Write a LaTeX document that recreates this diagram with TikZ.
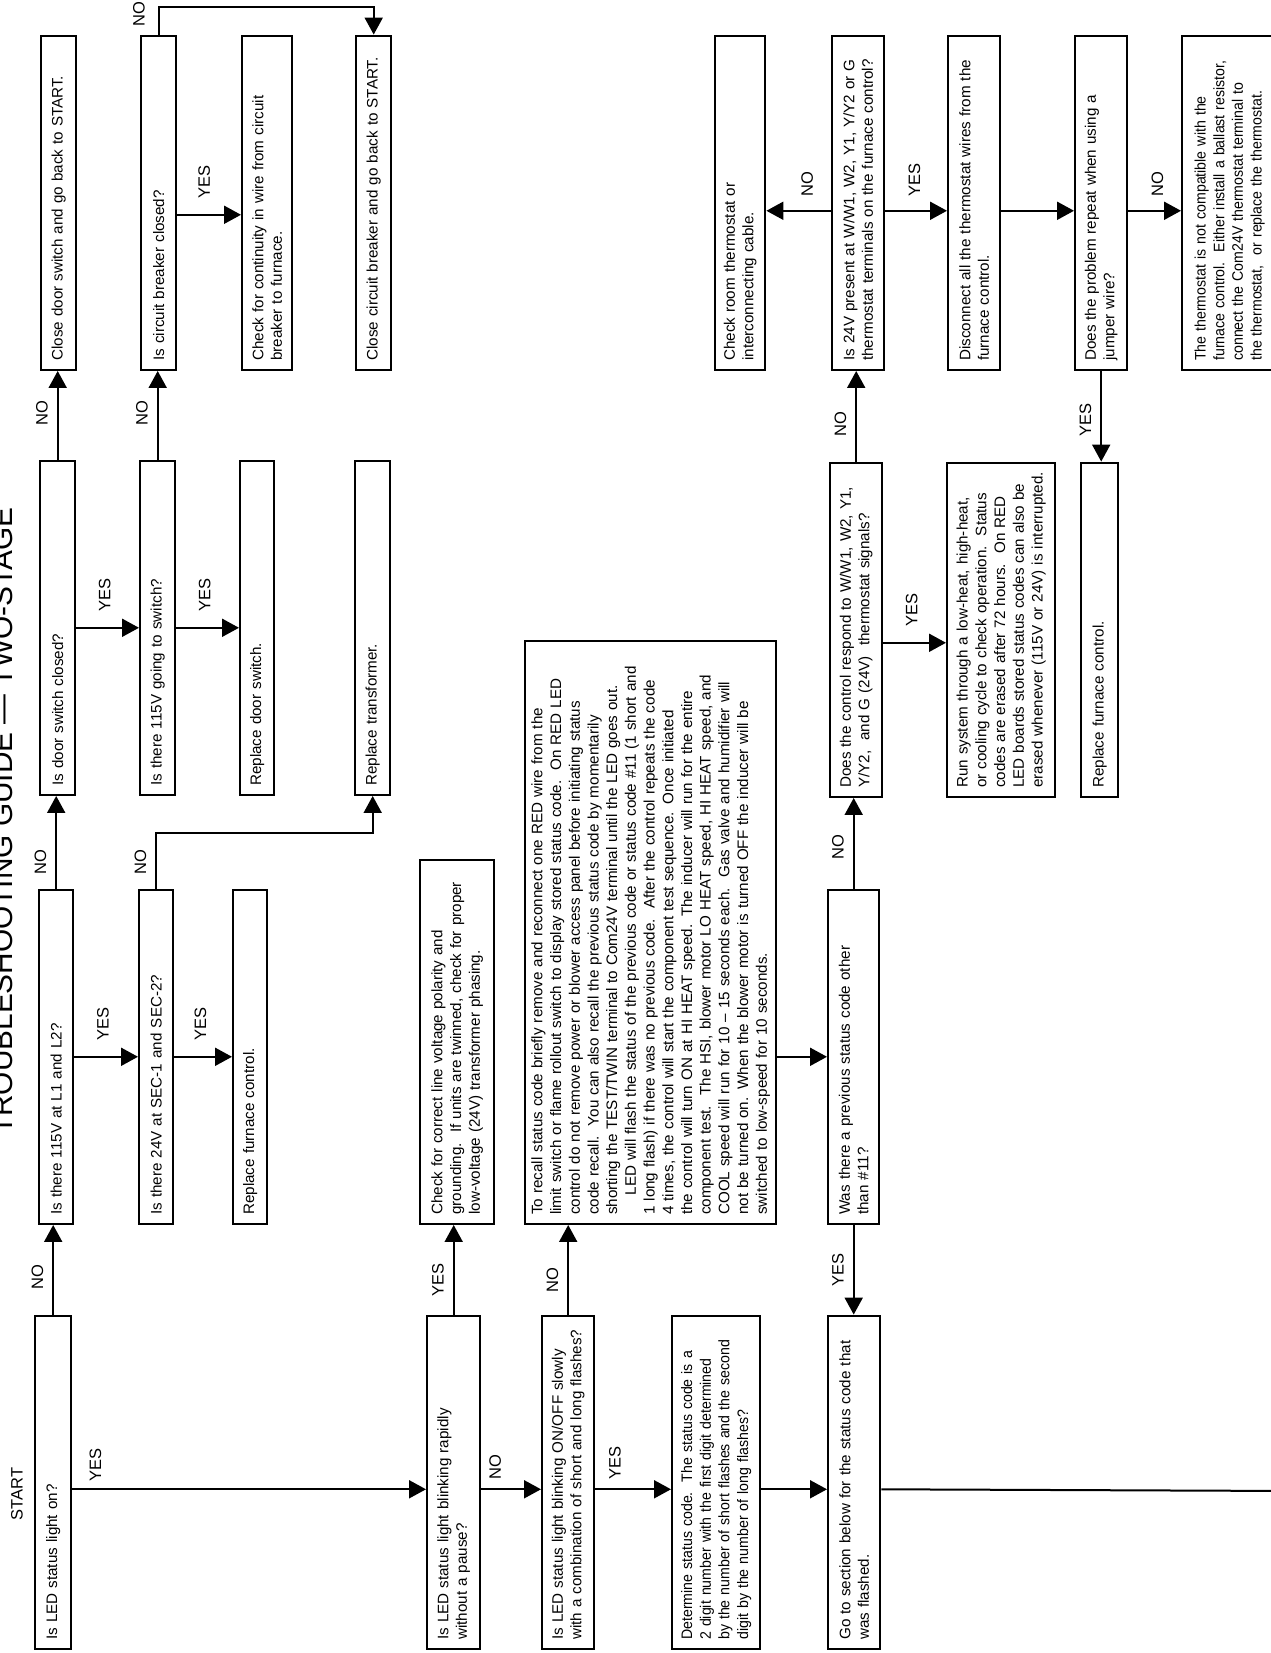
\documentclass[tikz,border=0pt]{standalone}
\usepackage{fontspec}
\setmainfont{Liberation Sans}
\newfontfamily\narrowsf[FakeStretch=0.93]{Liberation Sans}
\usepackage{tikz}
\usetikzlibrary{arrows.meta,calc}
\newcommand\boxfont{\fontsize{15.2}{18.7}\selectfont}
\newcommand\narrowfont{\narrowsf\fontsize{15.2}{18.7}\selectfont}
\newcommand\lblfont{\fontsize{16.5}{18}\selectfont}
\newcommand\titlefont{\fontsize{29.8}{32}\selectfont}
\tikzset{
  box/.style={draw, line width=2.4pt, rectangle, anchor=north west, align=left,
    inner xsep=9pt, inner ysep=2pt, font=\boxfont},
  lbl/.style={inner sep=1pt, font=\lblfont},
  flow/.style={line width=2pt},
  arr/.style={flow, -{Triangle[length=17pt,width=18pt]}}
}

\begin{document}
\begin{tikzpicture}[x=1pt, y=1pt, rotate=90, transform shape]
  \fill[white] (0,-1270) rectangle (1653,0);
  \useasboundingbox (0,-1270) rectangle (1653,0);

  % Title, cut by the page edge
  \node[anchor=base west, inner sep=0pt, font=\titlefont] (title) at (518,-13) {TROUBLESHOOTING GUIDE --- TWO-STAGE};
  \node[lbl] (start) at (159,-17) {START};

  % Bottom row: status light questions
  \node[box, text width=315pt, minimum height=36pt] (ledon) at (3,-34) {Is LED status light on?};
  \node[box, text width=315pt, minimum height=53pt] (blinkfast) at (3,-426) {Is LED status light blinking rapidly\\without a pause?};
  \node[box, text width=315pt, minimum height=52pt] (blinkslow) at (3,-541) {Is LED status light blinking ON/OFF slowly\\with a combination of short and long flashes?};
  \node[box, font=\narrowfont, text width=315pt, minimum height=88pt] (determine) at (3,-671) {Determine status code.\ \ The status code is a\\2 digit number with the first digit determined\\by the number of short flashes and the second\\digit by the number of long flashes?};
  \node[box, text width=315pt, minimum height=52pt] (goto) at (3,-827) {Go to section below for the status code that\\was flashed.};
  \coordinate (offpage) at (162,-1290);

  % Second row
  \node[box, text width=316pt, minimum height=34pt] (l1l2) at (428,-38) {Is there 115V at L1 and L2?};
  \node[box, text width=316pt, minimum height=34pt] (sec) at (428,-138) {Is there 24V at SEC-1 and SEC-2?};
  \node[box, text width=316pt, minimum height=34pt] (ctrlA) at (428,-232) {Replace furnace control.};
  \node[box, text width=346pt, minimum height=74pt] (checkline) at (428,-419) {Check for correct line voltage polarity and\\grounding.\ \ If units are twinned, check for proper\\low-voltage (24V) transformer phasing.};
  \node[box, text width=565pt, minimum height=251pt] (recall) at (428,-524) {To recall status code briefly remove and reconnect one RED wire from the\\limit switch or flame rollout switch to display stored status code.\ \ On RED LED\\control do not remove power or blower access panel before initiating status\\code recall.\ \ You can also recall the previous status code by momentarily\\shorting the TEST/TWIN terminal to Com24V terminal until the LED goes out.\\\hspace*{1.3em}LED will flash the status of the previous code or status code \#11 (1 short and\\1 long flash) if there was no previous code.\ \ After the control repeats the code\\4 times, the control will start the component test sequence. Once initiated\\the control will turn ON at HI HEAT speed. The inducer will run for the entire\\component test.\ \ The HSI, blower motor LO HEAT speed, HI HEAT speed, and\\COOL speed will run for 10 -- 15 seconds each.\ \ Gas valve and humidifier will\\not be turned on. When the blower motor is turned OFF the inducer will be\\switched to low-speed for 10 seconds.};
  \node[box, text width=316pt, minimum height=51pt] (prevcode) at (428,-827) {Was there a previous status code other\\than \#11?};

  % Third row
  \node[box, text width=316pt, minimum height=35pt] (doorsw) at (857,-39) {Is door switch closed?};
  \node[box, text width=316pt, minimum height=35pt] (sw115) at (857,-139) {Is there 115V going to switch?};
  \node[box, text width=316pt, minimum height=34pt] (repdoor) at (857,-239) {Replace door switch.};
  \node[box, text width=316pt, minimum height=35pt] (reptrans) at (857,-354) {Replace transformer.};
  \node[box, text width=316pt, minimum height=52pt] (respond) at (855,-829) {Does the control respond to W/W1, W2, Y1,\\Y/Y2,\ \ and G (24V)\ \ thermostat signals?};
  \node[box, text width=316pt, minimum height=108pt] (runsys) at (855,-946) {Run system through a low-heat, high-heat,\\or cooling cycle to check operation.\ \ Status\\codes are erased after 72 hours.\ \ On RED\\LED boards stored status codes can also be\\erased whenever (115V or 24V) is interrupted.};
  \node[box, text width=316pt, minimum height=37pt] (ctrlB) at (855,-1080) {Replace furnace control.};

  % Top row
  \node[box, text width=316pt, minimum height=35pt] (closedoor) at (1282,-40) {Close door switch and go back to START.};
  \node[box, text width=316pt, minimum height=35pt] (breaker) at (1282,-140) {Is circuit breaker closed?};
  \node[box, text width=316pt, minimum height=50pt] (continuity) at (1282,-241) {Check for continuity in wire from circuit\\breaker to furnace.};
  \node[box, text width=316pt, minimum height=35pt] (closebreaker) at (1282,-355) {Close circuit breaker and go back to START.};
  \node[box, text width=316pt, minimum height=50pt] (checkroom) at (1282,-714) {Check room thermostat or\\interconnecting cable.};
  \node[box, text width=316pt, minimum height=52pt] (present24) at (1282,-831) {Is 24V present at W/W1, W2, Y1, Y/Y2 or G\\thermostat terminals on the furnace control?};
  \node[box, text width=316pt, minimum height=52pt] (disconnect) at (1282,-947) {Disconnect all the thermostat wires from the\\furnace control.};
  \node[box, text width=316pt, minimum height=52pt] (repeatq) at (1282,-1074) {Does the problem repeat when using a\\jumper wire?};
  \node[box, font=\narrowfont, text width=316pt, minimum height=95pt] (notcompat) at (1282,-1181) {The thermostat is not compatible with the\\furnace control.\ \ Either install a ballast resistor,\\connect the Com24V thermostat terminal to\\the thermostat,\ \ or replace the thermostat.};

  % Power checks (left columns)
  \draw[arr] (ledon.east) -- node[lbl, pos=0.42, above=8pt] (noA) {NO} (ledon.east -| l1l2.west);
  \draw[arr] (l1l2.east) -- node[lbl, pos=0.29, above=8pt] (noB) {NO} (l1l2.east -| doorsw.west);
  \draw[arr] (doorsw.east) -- node[lbl, pos=0.52, above=8pt] (noC) {NO} (doorsw.east -| closedoor.west);
  \draw[arr] (sw115.east) -- node[lbl, pos=0.52, above=8pt] (noD) {NO} (sw115.east -| breaker.west);
  \draw[arr] (breaker.east) -- node[lbl, pos=0.72, above=12pt] (noE) {NO} ++(28,0) |- (closebreaker.east);
  \draw[arr] (sec.east) -- node[lbl, pos=0.48, above=8pt] (noF) {NO} ++(56,0) |- (reptrans.west);
  \draw[arr] (doorsw.south) -- node[lbl, pos=0.45, right=14pt] (yesA) {YES} (sw115.north);
  \draw[arr] (sw115.south) -- node[lbl, pos=0.45, right=14pt] (yesB) {YES} (repdoor.north);
  \draw[arr] (l1l2.south) -- node[lbl, pos=0.45, right=14pt] (yesC) {YES} (sec.north);
  \draw[arr] (sec.south) -- node[lbl, pos=0.45, right=14pt] (yesD) {YES} (ctrlA.north);
  \draw[arr] ($(breaker.south)+(-12,0)$) -- node[lbl, pos=0.42, right=14pt] (yesE) {YES} ($(continuity.north)+(-12,0)$);

  % Status light chain
  \draw[arr] ($(ledon.south)+(-7,0)$) -- node[lbl, pos=0.065, right=6pt] (yesF) {YES} ($(blinkfast.north)+(-7,0)$);
  \draw[arr] ($(blinkfast.south)+(-7,0)$) -- node[lbl, pos=0.23, right=8pt] (noG) {NO} ($(blinkslow.north)+(-7,0)$);
  \draw[arr] ($(blinkslow.south)+(-7,0)$) -- node[lbl, pos=0.26, right=8pt] (yesG) {YES} ($(determine.north)+(-7,0)$);
  \draw[arr] ($(determine.south)+(-7,0)$) -- ($(goto.north)+(-7,0)$);
  \draw[flow] ($(goto.south)+(-7,0)$) -- (offpage);
  \draw[arr] (blinkfast.east) -- node[lbl, pos=0.39, above=8pt] (yesH) {YES} (blinkfast.east -| checkline.west);
  \draw[arr] (blinkslow.east) -- node[lbl, pos=0.39, above=8pt] (noH) {NO} (blinkslow.east -| recall.west);

  % Status code recall and thermostat checks
  \draw[arr] (recall.south -| prevcode.north) -- (prevcode.north);
  \draw[arr] (prevcode.west) -- node[lbl, midway, above=8pt] (yesI) {YES} (prevcode.west -| goto.east);
  \draw[arr] (prevcode.east) -- node[lbl, pos=0.46, above=8pt] (noI) {NO} (prevcode.east -| respond.west);
  \draw[arr] (respond.east) -- node[lbl, pos=0.41, above=8pt] (noJ) {NO} (respond.east -| present24.west);
  \draw[arr] ($(respond.south)+(-13,0)$) -- node[lbl, pos=0.45, right=14pt] (yesJ) {YES} ($(runsys.north)+(-13,0)$);
  \draw[arr] ($(present24.north)+(-8,0)$) -- node[lbl, pos=0.37, right=12pt] (noK) {NO} ($(checkroom.south)+(-8,0)$);
  \draw[arr] ($(present24.south)+(-8,0)$) -- node[lbl, pos=0.47, right=12pt] (yesK) {YES} ($(disconnect.north)+(-8,0)$);
  \draw[arr] ($(disconnect.south)+(-8,0)$) -- ($(repeatq.north)+(-8,0)$);
  \draw[arr] ($(repeatq.south)+(-8,0)$) -- node[lbl, pos=0.55, right=12pt] (noL) {NO} ($(notcompat.north)+(-8,0)$);
  \draw[arr] (repeatq.west) -- node[lbl, pos=0.54, above=8pt] (yesL) {YES} (repeatq.west -| ctrlB.east);
\end{tikzpicture}
\end{document}
